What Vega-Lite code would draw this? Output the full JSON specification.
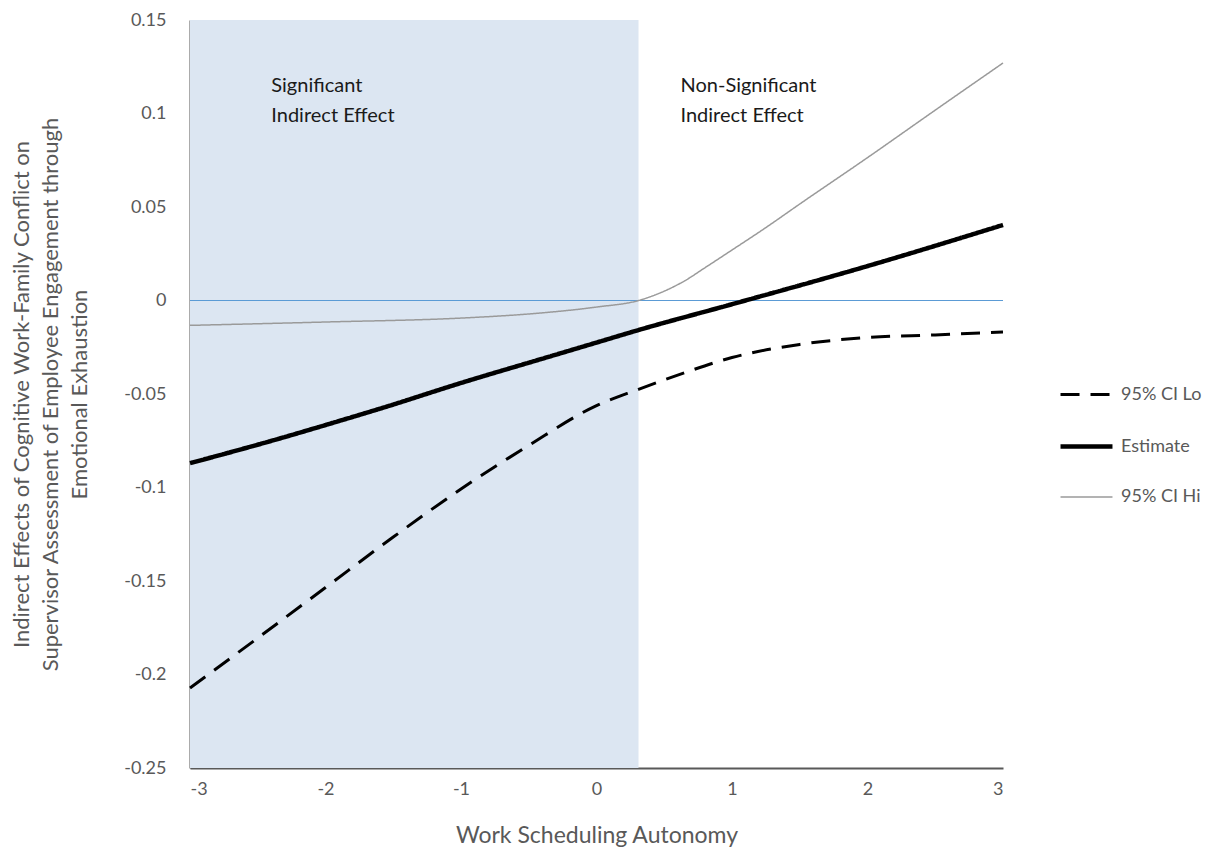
{
  "$schema": "https://vega.github.io/schema/vega-lite/v6.json",
  "width": 813,
  "height": 748,
  "autosize": {"type": "none"},
  "padding": {"left": 190, "top": 20, "right": 215, "bottom": 80},
  "background": "white",
  "config": {
    "view": {"stroke": null},
    "font": "Lato",
    "axis": {
      "grid": false,
      "ticks": false,
      "domainColor": "#595959",
      "domainWidth": 2,
      "labelColor": "#595959",
      "labelFontSize": 18,
      "titleColor": "#595959",
      "titleFontSize": 22,
      "titleFontWeight": "normal",
      "labelFont": "Lato",
      "titleFont": "Lato"
    }
  },
  "datasets": {
    "shade": [{"x": -3, "x2": 0.31, "y": -0.25, "y2": 0.15}],
    "zero": [{"x": -3, "x2": 3, "y": 0}],
    "notes": [
      {"x": -2.4, "y": 0.12, "label": "Significant\nIndirect Effect"},
      {"x": 0.62, "y": 0.12, "label": "Non-Significant\nIndirect Effect"}
    ],
    "lines": [
      {"series": "95% CI Lo", "x": -3, "v": -0.2072},
      {"series": "95% CI Lo", "x": -2.5, "v": -0.1805},
      {"series": "95% CI Lo", "x": -2, "v": -0.1535},
      {"series": "95% CI Lo", "x": -1.5, "v": -0.1265},
      {"series": "95% CI Lo", "x": -1, "v": -0.1008},
      {"series": "95% CI Lo", "x": -0.5, "v": -0.0775},
      {"series": "95% CI Lo", "x": 0, "v": -0.0562},
      {"series": "95% CI Lo", "x": 0.31, "v": -0.0475},
      {"series": "95% CI Lo", "x": 0.65, "v": -0.0386},
      {"series": "95% CI Lo", "x": 1, "v": -0.0305},
      {"series": "95% CI Lo", "x": 1.5, "v": -0.0235},
      {"series": "95% CI Lo", "x": 2, "v": -0.0198},
      {"series": "95% CI Lo", "x": 2.5, "v": -0.0184},
      {"series": "95% CI Lo", "x": 3, "v": -0.0168},
      {"series": "Estimate", "x": -3, "v": -0.087},
      {"series": "Estimate", "x": -2.3, "v": -0.073},
      {"series": "Estimate", "x": -2, "v": -0.0666},
      {"series": "Estimate", "x": -1.56, "v": -0.057},
      {"series": "Estimate", "x": -1, "v": -0.0441},
      {"series": "Estimate", "x": -0.38, "v": -0.0307},
      {"series": "Estimate", "x": 0, "v": -0.0225},
      {"series": "Estimate", "x": 0.31, "v": -0.0158},
      {"series": "Estimate", "x": 1, "v": -0.002},
      {"series": "Estimate", "x": 2, "v": 0.0184},
      {"series": "Estimate", "x": 3, "v": 0.0404},
      {"series": "95% CI Hi", "x": -3, "v": -0.0133},
      {"series": "95% CI Hi", "x": -2, "v": -0.0115},
      {"series": "95% CI Hi", "x": -1, "v": -0.0094},
      {"series": "95% CI Hi", "x": -0.5, "v": -0.0072},
      {"series": "95% CI Hi", "x": 0, "v": -0.0035},
      {"series": "95% CI Hi", "x": 0.31, "v": 0},
      {"series": "95% CI Hi", "x": 0.5, "v": 0.005},
      {"series": "95% CI Hi", "x": 0.65, "v": 0.0105},
      {"series": "95% CI Hi", "x": 0.8, "v": 0.0175},
      {"series": "95% CI Hi", "x": 1, "v": 0.027},
      {"series": "95% CI Hi", "x": 1.25, "v": 0.039},
      {"series": "95% CI Hi", "x": 1.5, "v": 0.0516},
      {"series": "95% CI Hi", "x": 2, "v": 0.0764},
      {"series": "95% CI Hi", "x": 2.5, "v": 0.1018},
      {"series": "95% CI Hi", "x": 3, "v": 0.127}
    ]
  },
  "layer": [
    {
      "data": {"name": "shade"},
      "mark": {"type": "rect", "color": "#dce6f2"},
      "encoding": {
        "x": {
          "field": "x", "type": "quantitative",
          "scale": {"domain": [-3, 3], "nice": false, "zero": false},
          "axis": {
            "values": [-3, -2, -1, 0, 1, 2, 3],
            "labelExpr": "datum.value + ''",
            "labelPadding": 12,
            "title": "Work Scheduling Autonomy",
            "titlePadding": 26,
            "titleFontSize": 23
          }
        },
        "x2": {"field": "x2"},
        "y": {
          "field": "y", "type": "quantitative",
          "scale": {"domain": [-0.25, 0.15], "nice": false, "zero": false},
          "axis": {
            "values": [-0.25, -0.2, -0.15, -0.1, -0.05, 0, 0.05, 0.1, 0.15],
            "labelExpr": "datum.value + ''",
            "labelPadding": 24,
            "title": [
              "Indirect Effects of Cognitive Work-Family Conflict on",
              "Supervisor Assessment of Employee Engagement through",
              "Emotional Exhaustion"
            ],
            "titlePadding": 32,
            "titleLineHeight": 29
          }
        },
        "y2": {"field": "y2"}
      }
    },
    {
      "data": {"name": "zero"},
      "mark": {"type": "rule", "color": "#5b9bd5", "strokeWidth": 1.2},
      "encoding": {
        "x": {"field": "x", "type": "quantitative"},
        "x2": {"field": "x2"},
        "y": {"field": "y", "type": "quantitative"}
      }
    },
    {
      "data": {"name": "notes"},
      "mark": {"type": "text", "align": "left", "baseline": "top", "fontSize": 20, "lineHeight": 30, "lineBreak": "\n", "color": "#1a1a1a", "font": "Lato"},
      "encoding": {
        "x": {"field": "x", "type": "quantitative"},
        "y": {"field": "y", "type": "quantitative"},
        "text": {"field": "label"}
      }
    },
    {
      "data": {"name": "lines"},
      "mark": {"type": "line", "interpolate": "monotone"},
      "encoding": {
        "x": {"field": "x", "type": "quantitative"},
        "y": {"field": "v", "type": "quantitative"},
        "detail": {"field": "series"},
        "color": {
          "field": "series", "type": "nominal",
          "scale": {"domain": ["95% CI Lo", "Estimate", "95% CI Hi"], "range": ["#000000", "#000000", "#9a9a9a"]},
          "legend": {
            "title": null,
            "orient": "none",
            "legendX": 868,
            "legendY": 347,
            "symbolType": "stroke",
            "symbolSize": 2700,
            "labelFontSize": 18,
            "labelColor": "#595959",
            "labelFont": "Lato",
            "rowPadding": 14,
            "labelOffset": 6
          }
        },
        "strokeDash": {
          "field": "series", "type": "nominal",
          "scale": {"domain": ["95% CI Lo", "Estimate", "95% CI Hi"], "range": [[19, 11], [1, 0], [1, 0]]}
        },
        "strokeWidth": {
          "field": "series", "type": "nominal",
          "scale": {"type": "ordinal", "domain": ["95% CI Lo", "Estimate", "95% CI Hi"], "range": [3, 4.5, 1.5]}
        }
      }
    }
  ]
}
